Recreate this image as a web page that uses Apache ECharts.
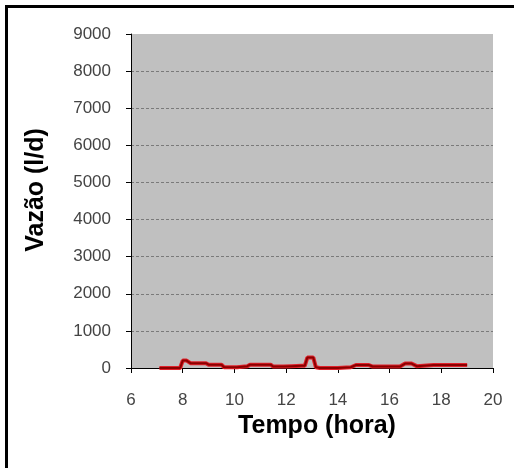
<!DOCTYPE html>
<html>
<head>
<meta charset="utf-8">
<script src="https://cdn.jsdelivr.net/npm/echarts@6/dist/echarts.min.js"></script>
<style>
html,body{margin:0;padding:0;background:#fff;}
#c{width:514px;height:468px;}
</style>
</head>
<body>
<div id="c"></div>
<script>
// time in hours
var hours = [7.1, 7.9, 8.0, 8.15, 8.3, 8.9, 9.0, 9.5, 9.6, 10.1, 10.5, 10.6, 11.4, 11.5, 11.9, 12.2, 12.6, 12.72, 12.82, 13.05, 13.15, 13.3, 14.0, 14.5, 14.7, 15.2, 15.35, 16.4, 16.6, 16.85, 17.05, 17.7, 19.0];
// flow (l/d)
var flow = [0, 0, 200, 200, 130, 130, 90, 90, 20, 20, 50, 90, 90, 40, 40, 50, 60, 60, 280, 280, 20, 0, 0, 20, 80, 80, 40, 40, 120, 120, 50, 80, 80];
var xTicks = [6, 8, 10, 12, 14, 16, 18, 20];
var yTicks = [0, 1000, 2000, 3000, 4000, 5000, 6000, 7000, 8000, 9000];

var pts = hours.map(function (h, i) { return [h, flow[i]]; });
var FONT = 'Liberation Sans, Arial, sans-serif';

var chart = echarts.init(document.getElementById('c'), null, {renderer: 'canvas'});
chart.setOption({
  animation: false,
  backgroundColor: '#ffffff',
  textStyle: {fontFamily: FONT},
  grid: {left: 131, right: 21, top: 34, bottom: 100, show: true, backgroundColor: '#c0c0c0', borderWidth: 0},
  graphic: [
    {type: 'rect', shape: {x: 5, y: 5, width: 3, height: 463}, style: {fill: '#000'}},
    {type: 'rect', shape: {x: 5, y: 5, width: 509, height: 3}, style: {fill: '#000'}}
  ],
  xAxis: {
    type: 'value', min: xTicks[0], max: xTicks[xTicks.length - 1], interval: 2,
    name: 'Tempo (hora)', nameLocation: 'middle', nameGap: 34,
    nameTextStyle: {fontSize: 25, fontWeight: 'bold', color: '#000', fontFamily: FONT, padding: [0, 0, 0, 10]},
    axisLine: {show: true, lineStyle: {color: '#000', width: 1}},
    axisTick: {show: true, inside: false, length: 5, lineStyle: {color: '#000'}},
    axisLabel: {fontSize: 17, color: '#444', margin: 24, fontFamily: FONT},
    splitLine: {show: false}
  },
  yAxis: {
    type: 'value', min: yTicks[0], max: yTicks[yTicks.length - 1], interval: 1000,
    name: 'Vazão (l/d)', nameLocation: 'middle', nameGap: 82, nameRotate: 90,
    nameTextStyle: {fontSize: 25, fontWeight: 'bold', color: '#000', fontFamily: FONT, padding: [0, 0, 0, 22]},
    axisLine: {show: true, lineStyle: {color: '#000', width: 1}},
    axisTick: {show: true, inside: false, length: 5, lineStyle: {color: '#000'}},
    axisLabel: {fontSize: 17, color: '#444', margin: 20, fontFamily: FONT,
      formatter: function (v) { return String(v); }},
    splitLine: {show: true, showMaxLine: false, showMinLine: false, lineStyle: {color: '#7a7a7a', type: [3, 2], width: 1}}
  },
  series: [
    {type: 'line', data: pts, symbol: 'none', smooth: false, lineStyle: {color: '#e0202a', width: 4}, z: 2},
    {type: 'line', data: pts, symbol: 'none', smooth: false, lineStyle: {color: '#8b0000', width: 2}, z: 3}
  ]
});
</script>
</body>
</html>
